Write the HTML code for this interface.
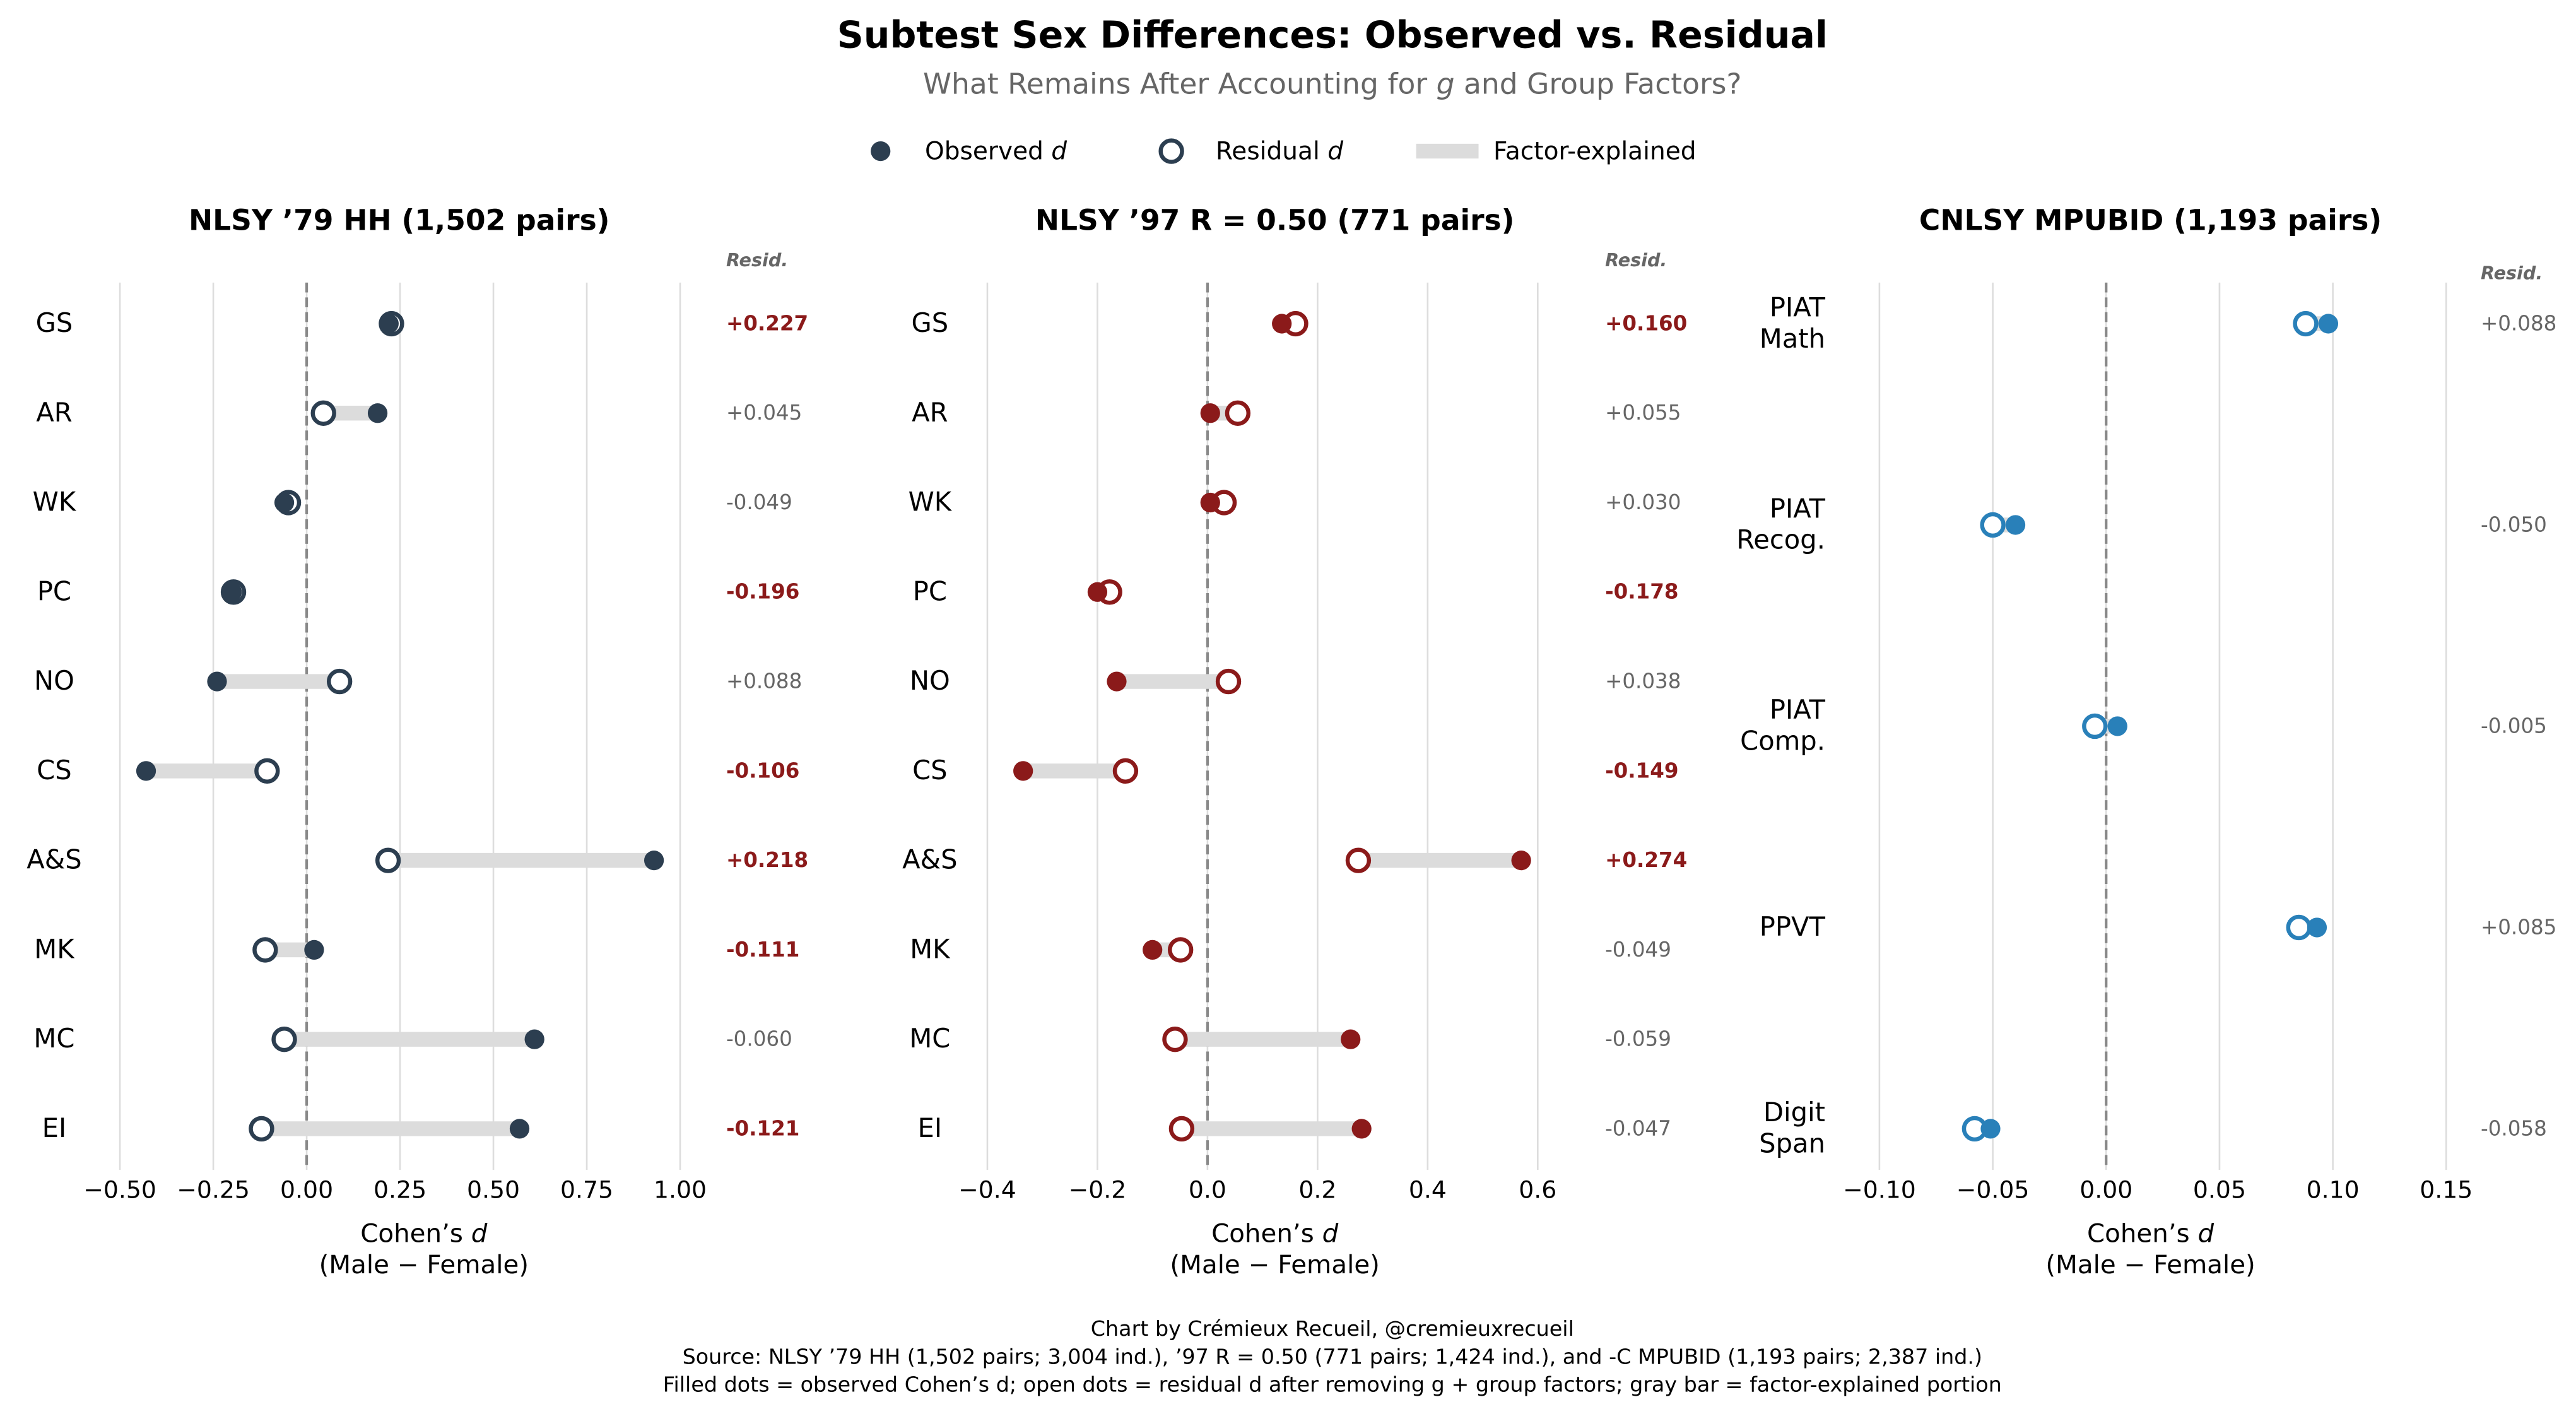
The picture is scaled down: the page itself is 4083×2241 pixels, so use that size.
<!DOCTYPE html>
<html><head><meta charset="utf-8"><style>
html,body{margin:0;padding:0;background:#fff}
svg{display:block;font-family:"DejaVu Sans","Liberation Sans",sans-serif}
</style></head><body>
<svg id="chart" width="4083" height="2241" viewBox="0 0 1568 860.6" xmlns="http://www.w3.org/2000/svg">
<text x="811" y="29" text-anchor="middle" font-size="22.5" font-weight="bold">Subtest Sex Differences: Observed vs. Residual</text>
<text x="811" y="57" text-anchor="middle" font-size="17.5" fill="#666">What Remains After Accounting for <tspan font-style="italic">g</tspan> and Group Factors?</text>
<g font-size="15">
<g><circle cx="536" cy="92" r="6" fill="#2c3e50"/><text x="563" y="97">Observed <tspan font-style="italic">d</tspan></text></g>
<g><circle cx="713" cy="92" r="6.5" fill="#fff" stroke="#2c3e50" stroke-width="2.5"/><text x="740" y="97">Residual <tspan font-style="italic">d</tspan></text></g>
<g><line x1="862" y1="92" x2="900" y2="92" stroke="#dcdcdc" stroke-width="9"/><text x="909" y="97">Factor-explained</text></g>
</g>
<g id="panels"></g>
<g font-size="12.8" text-anchor="middle">
<text x="811" y="813">Chart by Crémieux Recueil, @cremieuxrecueil</text>
<text x="811" y="830">Source: NLSY ’79 HH (1,502 pairs; 3,004 ind.), ’97 R = 0.50 (771 pairs; 1,424 ind.), and -C MPUBID (1,193 pairs; 2,387 ind.)</text>
<text x="811" y="847">Filled dots = observed Cohen’s d; open dots = residual d after removing g + group factors; gray bar = factor-explained portion</text>
</g>
</svg>
<script>
const cats1 = ["GS","AR","WK","PC","NO","CS","A&S","MK","MC","EI"];
const obs1 = [0.22,0.19,-0.06,-0.20,-0.24,-0.43,0.93,0.02,0.61,0.57];
const res1 = [0.227,0.045,-0.049,-0.196,0.088,-0.106,0.218,-0.111,-0.060,-0.121];
const ticks1 = [-0.5,-0.25,0,0.25,0.5,0.75,1.0];
const tickLabels1 = ["−0.50","−0.25","0.00","0.25","0.50","0.75","1.00"];
const cats2 = ["GS","AR","WK","PC","NO","CS","A&S","MK","MC","EI"];
const obs2 = [0.135,0.005,0.005,-0.20,-0.165,-0.335,0.57,-0.10,0.26,0.28];
const res2 = [0.160,0.055,0.030,-0.178,0.038,-0.149,0.274,-0.049,-0.059,-0.047];
const ticks2 = [-0.4,-0.2,0,0.2,0.4,0.6];
const tickLabels2 = ["−0.4","−0.2","0.0","0.2","0.4","0.6"];
const cats3 = [["PIAT","Math"],["PIAT","Recog."],["PIAT","Comp."],["PPVT"],["Digit","Span"]];
const obs3 = [0.098,-0.040,0.005,0.093,-0.051];
const res3 = [0.088,-0.050,-0.005,0.085,-0.058];
const ticks3 = [-0.10,-0.05,0,0.05,0.10,0.15];
const tickLabels3 = ["−0.10","−0.05","0.00","0.05","0.10","0.15"];

const NS="http://www.w3.org/2000/svg";
const root=document.getElementById('panels');
function mk(tag,attrs,parent,text){const e=document.createElementNS(NS,tag);for(const k in attrs)e.setAttribute(k,attrs[k]);if(text!==undefined)e.textContent=text;parent.appendChild(e);return e;}
function fmt(v){return (v>=0?"+":"")+v.toFixed(3);}

const panels=[
 {title:"NLSY ’79 HH (1,502 pairs)",tx:243,cats:cats1,obs:obs1,res:res1,ticks:ticks1,tl:tickLabels1,x0:-0.5,x1:1.0,px0:73,px1:414,labX:45,residX:442,residHY:162,color:"#2c3e50",bold:true},
 {title:"NLSY ’97 R = 0.50 (771 pairs)",tx:776,cats:cats2,obs:obs2,res:res2,ticks:ticks2,tl:tickLabels2,x0:-0.4,x1:0.6,px0:601,px1:936,labX:578,residX:977,residHY:162,color:"#8b1a1a",bold:true},
 {title:"CNLSY MPUBID (1,193 pairs)",tx:1309,cats:cats3,obs:obs3,res:res3,ticks:ticks3,tl:tickLabels3,x0:-0.10,x1:0.15,px0:1144,px1:1489,labX:1111,residX:1510,residHY:170,color:"#2980b9",bold:false}
];
panels.forEach((p,pi)=>{
 const g=mk('g',{},root);
 
 
 const sx=v=>p.px0+(v-p.x0)/(p.x1-p.x0)*(p.px1-p.px0);
 const n=p.cats.length;
 const sy=i=>197+i*(687-197)/(n-1);
 const t=mk('text',{x:p.tx,y:140,'text-anchor':'middle','font-size':17.5,'font-weight':'bold'},g,p.title);
 
 
 p.ticks.forEach((tv,i)=>{
  const gl=mk('line',{x1:sx(tv),x2:sx(tv),y1:172,y2:712,stroke:'#dddddd','stroke-width':1},g);
  
  
  const tl=mk('text',{x:sx(tv),y:729,'text-anchor':'middle','font-size':14.5},g,p.tl[i]);
  
  
 });
 const z=mk('line',{x1:sx(0),x2:sx(0),y1:172,y2:712,stroke:'#888','stroke-width':1.6,'stroke-dasharray':'6,3'},g);
 
 
 const xl=mk('text',{x:p.tx+ (pi==0?15:0),y:756,'text-anchor':'middle','font-size':15.5},g);
 xl.innerHTML='Cohen’s <tspan font-style="italic">d</tspan>';
 
 
 const xl2=mk('text',{x:p.tx+ (pi==0?15:0),y:775,'text-anchor':'middle','font-size':15.5},g,'(Male − Female)');
 
 
 const rh=mk('text',{x:p.residX,y:p.residHY,'font-size':11,'font-weight':'bold','font-style':'italic',fill:'#666'},g,'Resid.');
 
 
 p.cats.forEach((c,i)=>{
  const y=sy(i);
  const lines=Array.isArray(c)?c:[c];
  const lab=mk('text',{x:p.labX,'text-anchor':Array.isArray(c)?'end':'middle','font-size':16},g);
  if(!Array.isArray(c)){lab.setAttribute('x',pi==0?33:566);}
  lines.forEach((l,k)=>{mk('tspan',{x:lab.getAttribute('x'),y:y+5+(k-(lines.length-1)/2)*19},lab,l);});
  
  
  const bar=mk('line',{x1:sx(p.obs[i]),x2:sx(p.res[i]),y1:y,y2:y,stroke:'#dcdcdc','stroke-width':9},g);
  
  
  const oc=mk('circle',{cx:sx(p.res[i]),cy:y,r:6.5,fill:'#fff',stroke:p.color,'stroke-width':2.5},g);
  
  
  const fc=mk('circle',{cx:sx(p.obs[i]),cy:y,r:6,fill:p.color},g);
  
  
  const big=p.bold&&Math.abs(p.res[i])>0.1;
  const rv=mk('text',{x:p.residX,y:y+4,'font-size':12.5,fill:big?'#8b1a1a':'#666','font-weight':big?'bold':'normal'},g,fmt(p.res[i]));
  
  
 });
});
</script>
</body></html>
